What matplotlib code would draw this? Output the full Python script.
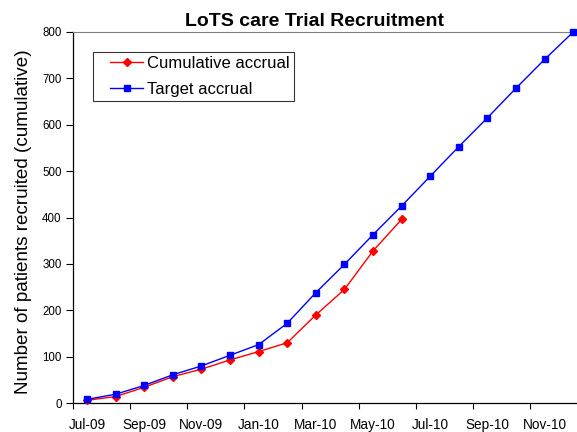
import matplotlib
matplotlib.use("Agg")
import matplotlib.pyplot as plt
from matplotlib.legend_handler import HandlerLine2D
import numpy as np

months = ["Jul-09", "Aug-09", "Sep-09", "Oct-09", "Nov-09", "Dec-09", "Jan-10", "Feb-10",
          "Mar-10", "Apr-10", "May-10", "Jun-10", "Jul-10", "Aug-10", "Sep-10", "Oct-10",
          "Nov-10", "Dec-10"]
cumulative = [6, 14, 34, 57, 73, 93, 111, 130, 190, 245, 328, 396]
target = [8, 19, 38, 61, 80, 103, 126, 172, 238, 299, 363, 425, 489, 553, 615, 679, 741, 800]

plt.rcParams['font.family'] = ['Liberation Sans', 'DejaVu Sans']

fig = plt.figure(figsize=(5.77, 4.32), dpi=100)
ax = fig.add_axes([0.126, 0.067, 0.874, 0.859])

x_t = np.arange(len(target))
x_c = np.arange(len(cumulative))
ax.plot(x_c, cumulative, color='#ff0000', marker='D', markersize=3.6, lw=1.0,
        label='Cumulative accrual', clip_on=False, zorder=3)
ax.plot(x_t, target, color='#0000ff', marker='s', markersize=3.8, lw=1.0,
        label='Target accrual', clip_on=False, zorder=3)

ax.set_ylim(0, 800)
ax.set_yticks(np.arange(0, 801, 100))
ax.set_xlim(-0.5, 17.13)
ax.set_xticks(np.arange(-0.5, 17, 2))
ax.set_xticklabels([])
ax.set_xticks(np.arange(0, len(months), 2), minor=True)
ax.set_xticklabels(months[::2], minor=True)
ax.tick_params(axis='x', which='minor', length=0, pad=11, labelsize=9.8)
ax.tick_params(axis='x', which='major', length=4, width=0.8, direction='out')
ax.tick_params(axis='y', length=5, width=0.8, direction='out', labelsize=8.3, pad=3)

ax.spines['right'].set_visible(False)
ax.spines['top'].set_color('#808080')
ax.spines['top'].set_linewidth(0.8)
ax.spines['left'].set_linewidth(0.9)
ax.spines['bottom'].set_linewidth(0.9)

ax.set_ylabel('Number of patients recruited (cumulative)', fontsize=13.6, labelpad=7)
ax.yaxis.label.set_y(0.49)
ax.set_title('LoTS care Trial Recruitment', fontsize=14, fontweight='bold', pad=4, x=0.48)

hmap = {ln: HandlerLine2D(xpad=0.75) for ln in ax.get_lines()}
leg = ax.legend(loc='upper left', bbox_to_anchor=(0.041, 0.946), frameon=True,
                fancybox=False, fontsize=12, handlelength=2.75, handletextpad=0.2,
                borderpad=0.25, labelspacing=0.62, borderaxespad=0, handler_map=hmap)
leg.get_frame().set_edgecolor('black')
leg.get_frame().set_linewidth(0.8)

fig.savefig('out.png', dpi=100)
